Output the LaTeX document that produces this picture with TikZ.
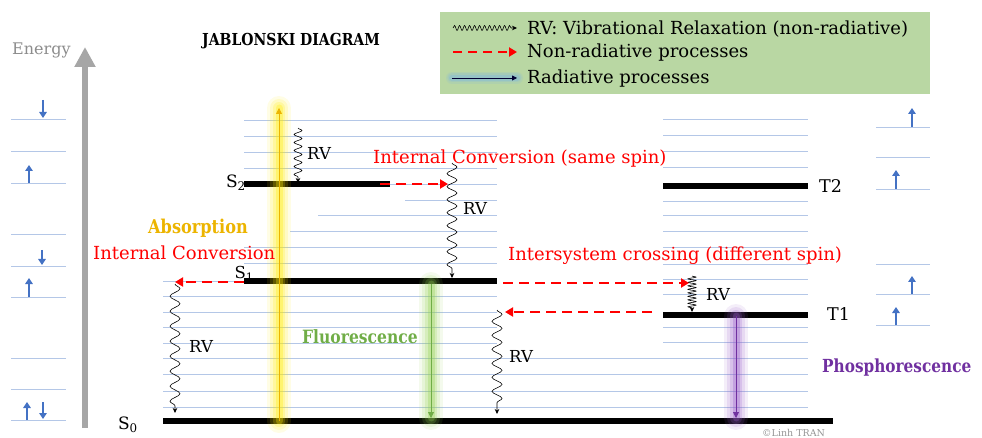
\documentclass[tikz,border=0pt]{standalone}
\usepackage{fontspec}
\setmainfont{DejaVu Serif}
\newfontfamily\cbf{DejaVu Serif}[FakeStretch=0.85]
\usetikzlibrary{arrows.meta,decorations.pathmorphing}
\definecolor{lvlc}{RGB}{180,199,231}
\definecolor{spinc}{RGB}{68,114,196}
\definecolor{goldc}{RGB}{236,180,0}
\definecolor{greenc}{RGB}{112,173,71}
\definecolor{purplec}{RGB}{112,48,160}
\definecolor{legc}{RGB}{185,215,163}
\definecolor{egrayc}{RGB}{166,166,166}
\definecolor{etxtc}{RGB}{140,140,140}
\definecolor{copyc}{RGB}{150,150,150}
\definecolor{yglow}{RGB}{255,235,0}
\definecolor{gglow}{RGB}{146,208,80}
\definecolor{pglow}{RGB}{150,90,200}
\definecolor{bglow}{RGB}{120,180,230}
\newcommand\fsz[1]{\fontsize{#1}{#1}\selectfont}
\newcommand\myglow[3]{\foreach \gw/\go in {24/0.10,18/0.14,12/0.2,7/0.3}{\draw[#1,line width=\gw pt,opacity=\go,line cap=round] (#2)--(#3);}}
\begin{document}
\begin{tikzpicture}[x=1pt,y=-1pt,
  lvl/.style={draw=lvlc, line width=0.9pt},
  bar/.style={draw=black, line width=6pt},
  spinarr/.style={draw=spinc, line width=2.2pt, -{Triangle[length=6pt,width=7.5pt]}},
  rvline/.style={draw=black, line width=0.6pt, -{Stealth[length=5pt,width=4.5pt]}, decorate},
  nrline/.style={draw=red, line width=2.6pt, dash pattern=on 10pt off 6pt, -{Triangle[length=8pt,width=9pt]}},
  txt/.style={inner sep=0pt, anchor=west},
  redtxt/.style={txt, text=red, font=\fsz{18}},
  rvtxt/.style={txt, font=\fsz{16.5}}
]
\useasboundingbox (0,0) rectangle (982,438);

% ---------------- legend
\fill[legc] (440,12) rectangle (930,94);
\coordinate (l1a) at (453,28); \coordinate (l1b) at (517,28);
\coordinate (l2a) at (453,52); \coordinate (l2b) at (517,52);
\coordinate (l3a) at (452,78); \coordinate (l3b) at (517,78);
\draw[rvline, decoration={snake, amplitude=2.5pt, segment length=5pt, post length=5pt}] (l1a) -- (l1b);
\draw[nrline, line width=2.4pt, dash pattern=on 9pt off 6pt] (l2a) -- (l2b);
\foreach \gw/\go in {12/0.15,9/0.2,6/0.3}{\draw[bglow,line width=\gw pt,opacity=\go,line cap=round] (l3a)--(l3b);}
\draw[black!80!blue, line width=0.8pt, -{Triangle[length=5pt,width=5pt]}] (l3a) -- (l3b);
\node[txt, font=\fsz{18}] (leg1) at (527,29) {RV: Vibrational Relaxation (non-radiative)};
\node[txt, font=\fsz{18}] (leg2) at (527,53) {Non-radiative processes};
\node[txt, font=\fsz{18}] (leg3) at (527,79) {Radiative processes};

% ---------------- title and energy axis
\node[txt, font=\cbf\bfseries\fsz{16.5}] (title) at (202,41) {JABLONSKI DIAGRAM};
\node[txt, text=etxtc, font=\fsz{16}] (energy) at (12,50) {Energy};
\coordinate (eb) at (85,428); \coordinate (et) at (85,47);
\draw[egrayc, line width=6pt, -{Triangle[length=20pt,width=20pt]}] (eb) -- (et);

% ---------------- left column orbitals
\foreach \yy in {119,151,183,234,266,297,358,389,420}{\draw[lvl] (11,\yy) -- (66,\yy);}
\draw[spinarr] (43,100) -- (43,118);
\draw[spinarr] (29,183) -- (29,165);
\draw[spinarr] (42,250) -- (42,265);
\draw[spinarr] (29,297) -- (29,278);
\draw[spinarr] (27,420) -- (27,402);
\draw[spinarr] (43,402) -- (43,419);

% ---------------- right column orbitals
\foreach \yy in {127,157,189,264,294,325}{\draw[lvl] (876,\yy) -- (930,\yy);}
\draw[spinarr] (912,127) -- (912,108);
\draw[spinarr] (896,189) -- (896,170);
\draw[spinarr] (912,294) -- (912,276);
\draw[spinarr] (896,325) -- (896,307);

% ---------------- singlet vibrational levels
\foreach \yy in {120,136,152,168,184,247,263}{\draw[lvl] (244,\yy) -- (497,\yy);}
\draw[lvl] (405,200) -- (497,200);
\draw[lvl] (318,215) -- (497,215);
\draw[lvl] (290,231) -- (497,231);
\foreach \yy in {281,296,312,327,343}{\draw[lvl] (163,\yy) -- (497,\yy);}
\foreach \yy in {358,374,391,407}{\draw[lvl] (163,\yy) -- (808,\yy);}
% triplet vibrational levels
\foreach \yy in {119,135,151,167,186,201,215,231,247,264,279,294,315,327,342}{\draw[lvl] (663,\yy) -- (808,\yy);}

% ---------------- electronic states
\coordinate (s2a) at (244,184); \coordinate (s2b) at (390,184);
\coordinate (s1a) at (244,281); \coordinate (s1b) at (497,281);
\coordinate (s0a) at (163,421); \coordinate (s0b) at (833,421);
\coordinate (t2a) at (663,186); \coordinate (t2b) at (808,186);
\coordinate (t1a) at (663,315); \coordinate (t1b) at (808,315);
\draw[bar] (s2a) -- (s2b);
\draw[bar] (s1a) -- (s1b);
\draw[bar] (s0a) -- (s0b);
\draw[bar] (t2a) -- (t2b);
\draw[bar] (t1a) -- (t1b);
\node[anchor=east, inner sep=0pt, font=\fsz{17}] (s2lab) at (246,183) {S\textsubscript{2}};
\node[anchor=east, inner sep=0pt, font=\fsz{16.5}] (s1lab) at (254,274) {S\textsubscript{1}};
\node[anchor=east, inner sep=0pt, font=\fsz{17}] (s0lab) at (138,425) {S\textsubscript{0}};
\node[txt, font=\fsz{17.5}] (t2lab) at (819,186) {T2};
\node[txt, font=\fsz{17.5}] (t1lab) at (827,314) {T1};

% ---------------- radiative processes (glowing)
\coordinate (absb) at (279,421); \coordinate (abst) at (279,108);
\coordinate (flt) at (431,284); \coordinate (flb) at (431,418);
\coordinate (pht) at (736,316); \coordinate (phb) at (736,418);
\myglow{yglow}{absb}{abst}
\myglow{gglow}{flt}{flb}
\myglow{pglow}{pht}{phb}
\draw[goldc, line width=0.8pt, -{Triangle[length=6pt,width=6pt]}] (absb) -- (abst);
\draw[greenc, line width=0.8pt, -{Triangle[length=6pt,width=6pt]}] (flt) -- (flb);
\draw[purplec, line width=0.8pt, -{Triangle[length=6pt,width=6pt]}] (pht) -- (phb);

% ---------------- vibrational relaxation
\coordinate (rv1a) at (298,128); \coordinate (rv1b) at (298,183);
\coordinate (rv2a) at (452,163); \coordinate (rv2b) at (452,278);
\coordinate (rv3a) at (175,284); \coordinate (rv3b) at (175,413);
\coordinate (rv4a) at (497,310); \coordinate (rv4b) at (497,414);
\coordinate (rv5a) at (692,276); \coordinate (rv5b) at (692,312);
\draw[rvline, decoration={snake, amplitude=4pt, segment length=8pt, post length=4pt}] (rv1a) -- (rv1b);
\draw[rvline, decoration={snake, amplitude=5pt, segment length=13pt, post length=6pt}] (rv2a) -- (rv2b);
\draw[rvline, decoration={snake, amplitude=5pt, segment length=15pt, post length=7pt}] (rv3a) -- (rv3b);
\draw[rvline, decoration={snake, amplitude=5pt, segment length=14pt, post length=7pt}] (rv4a) -- (rv4b);
\draw[rvline, decoration={snake, amplitude=4pt, segment length=3.5pt, post length=3pt}] (rv5a) -- (rv5b);
\node[rvtxt] (rv1t) at (307,153) {RV};
\node[rvtxt] (rv2t) at (463,208) {RV};
\node[rvtxt] (rv3t) at (189,346) {RV};
\node[rvtxt] (rv4t) at (509,356) {RV};
\node[rvtxt] (rv5t) at (706,294) {RV};

% ---------------- non-radiative processes
\coordinate (ic2a) at (380,184); \coordinate (ic2b) at (448,184);
\coordinate (ic1a) at (244,282); \coordinate (ic1b) at (175,282);
\coordinate (isca) at (503,283); \coordinate (iscb) at (689,283);
\coordinate (risa) at (652,312); \coordinate (risb) at (505,312);
\draw[nrline] (ic2a) -- (ic2b);
\draw[nrline] (ic1a) -- (ic1b);
\draw[nrline] (isca) -- (iscb);
\draw[nrline] (risa) -- (risb);

% ---------------- labels
\node[redtxt] (ictxt2) at (373,159) {Internal Conversion (same spin)};
\node[redtxt] (ictxt1) at (93,253) {Internal Conversion};
\node[redtxt] (isctxt) at (508,256) {Intersystem crossing (different spin)};
\node[txt, text=goldc, font=\cbf\bfseries\fsz{19}] (abstxt) at (148,228) {Absorption};
\node[txt, text=greenc, font=\cbf\bfseries\fsz{18.3}] (fltxt) at (302,337) {Fluorescence};
\node[txt, text=purplec, font=\cbf\bfseries\fsz{18}] (phtxt) at (822,368) {Phosphorescence};
\node[txt, text=copyc, font=\fsz{9.5}] (copy) at (762,433) {©Linh TRAN};
\end{tikzpicture}
\end{document}
